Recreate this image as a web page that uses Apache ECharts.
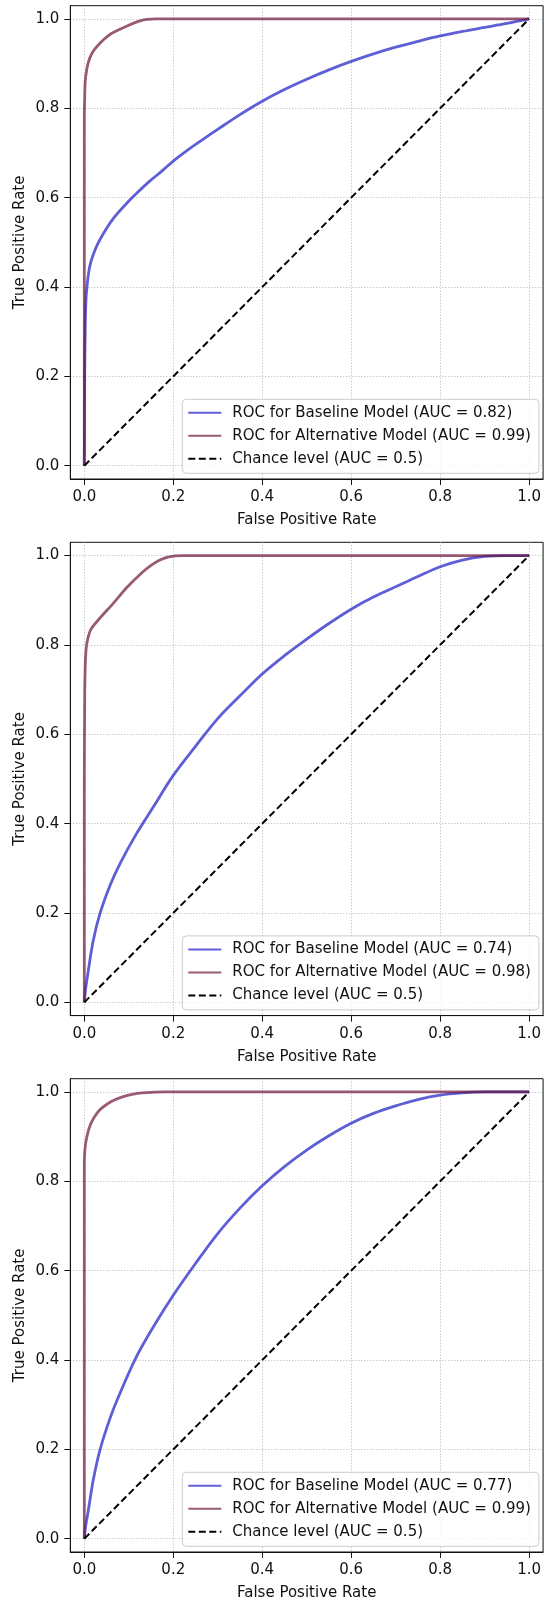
<!DOCTYPE html>
<html><head><meta charset="utf-8">
<script src="https://cdn.jsdelivr.net/npm/echarts@6/dist/echarts.min.js"></script>
<style>html,body{margin:0;padding:0;background:#fff;}#c{width:544px;height:1602px;}</style>
</head><body><div id="c"></div>
<script>
// ---- tick labels ----
const tickValues = [0, 0.2, 0.4, 0.6, 0.8, 1.0];
const tickLabels = ['0.0', '0.2', '0.4', '0.6', '0.8', '1.0'];

// ---- legend names ----
const names1 = ['ROC for Baseline Model (AUC = 0.82)', 'ROC for Alternative Model (AUC = 0.99)', 'Chance level (AUC = 0.5)'];
const names2 = ['ROC for Baseline Model (AUC = 0.74)', 'ROC for Alternative Model (AUC = 0.98)', 'Chance level (AUC = 0.5)'];
const names3 = ['ROC for Baseline Model (AUC = 0.77)', 'ROC for Alternative Model (AUC = 0.99)', 'Chance level (AUC = 0.5)'];

// ---- chance level ----
const chanceX = [0, 1];
const chanceY = [0, 1];

// ---- panel 1 ----
const base1X = [0, 0.0005, 0.001, 0.002, 0.003, 0.005, 0.012, 0.025, 0.042, 0.065, 0.094, 0.12, 0.147, 0.175, 0.2, 0.233, 0.266, 0.3, 0.35, 0.4, 0.45, 0.5, 0.55, 0.6, 0.65, 0.7, 0.75, 0.8, 0.85, 0.9, 0.95, 1.0];
const base1Y = [0, 0.12, 0.22, 0.3, 0.35, 0.39, 0.445, 0.485, 0.518, 0.553, 0.586, 0.612, 0.637, 0.66, 0.682, 0.707, 0.73, 0.753, 0.786, 0.816, 0.842, 0.865, 0.886, 0.905, 0.922, 0.937, 0.95, 0.962, 0.972, 0.981, 0.99, 1.0];
const alt1X = [0, 0, 0.001, 0.002, 0.006, 0.012, 0.02, 0.03, 0.045, 0.06, 0.08, 0.1, 0.12, 0.14, 0.16, 1];
const alt1Y = [0, 0.78, 0.83, 0.86, 0.89, 0.912, 0.928, 0.94, 0.955, 0.967, 0.977, 0.986, 0.994, 0.999, 1, 1];

// ---- panel 2 ----
const base2X = [0, 0.003, 0.009, 0.02, 0.035, 0.058, 0.08, 0.117, 0.155, 0.2, 0.25, 0.3, 0.35, 0.4, 0.45, 0.5, 0.55, 0.6, 0.65, 0.7, 0.75, 0.8, 0.85, 0.9, 0.95, 1];
const base2Y = [0, 0.03, 0.071, 0.138, 0.198, 0.262, 0.31, 0.377, 0.437, 0.508, 0.573, 0.635, 0.686, 0.735, 0.776, 0.813, 0.848, 0.88, 0.907, 0.93, 0.953, 0.975, 0.99, 0.998, 1, 1];
const alt2X = [0, 0, 0.001, 0.002, 0.004, 0.008, 0.016, 0.035, 0.065, 0.095, 0.13, 0.15, 0.17, 0.19, 0.22, 1];
const alt2Y = [0, 0.5, 0.7, 0.75, 0.79, 0.815, 0.837, 0.86, 0.893, 0.928, 0.962, 0.978, 0.99, 0.997, 1, 1];

// ---- panel 3 ----
const base3X = [0, 0.003, 0.009, 0.02, 0.035, 0.058, 0.08, 0.117, 0.155, 0.2, 0.25, 0.3, 0.35, 0.4, 0.45, 0.5, 0.55, 0.6, 0.65, 0.7, 0.75, 0.8, 0.85, 0.9, 1];
const base3Y = [0, 0.028, 0.063, 0.131, 0.198, 0.27, 0.325, 0.407, 0.474, 0.545, 0.616, 0.683, 0.74, 0.79, 0.833, 0.87, 0.902, 0.93, 0.952, 0.969, 0.983, 0.993, 0.998, 1, 1];
const alt3X = [0, 0, 0.001, 0.003, 0.007, 0.013, 0.022, 0.035, 0.05, 0.07, 0.095, 0.12, 0.15, 0.18, 1];
const alt3Y = [0, 0.84, 0.865, 0.885, 0.905, 0.925, 0.943, 0.96, 0.972, 0.983, 0.992, 0.997, 0.999, 1, 1];

const panels = [
  {names: names1, bx: base1X, by: base1Y, ax: alt1X, ay: alt1Y},
  {names: names2, bx: base2X, by: base2Y, ax: alt2X, ay: alt2Y},
  {names: names3, bx: base3X, by: base3Y, ax: alt3X, ay: alt3Y}
];

const FONT = 'DejaVu Sans';
const TXT = '#111';
const BLUE = 'rgba(40,40,200,0.75)';
const MAROON = 'rgba(110,20,60,0.7)';
const tops = [5.7, 542.3, 1078.7];
const GRID_LEFT = 70.3, GRID_W = 475.3, GRID_H = 473.3;

function pairs(xs, ys) { return xs.map((x, i) => [x, ys[i]]); }
function labelFor(v) {
  let best = 0;
  for (let i = 0; i < tickValues.length; i++) if (Math.abs(tickValues[i] - v) < Math.abs(tickValues[best] - v)) best = i;
  return tickLabels[best];
}

const grid = [], xAxis = [], yAxis = [], legend = [], series = [];
panels.forEach((p, i) => {
  const T = tops[i];
  grid.push({left: GRID_LEFT, top: T, width: GRID_W, height: GRID_H, show: true, borderColor: '#111', borderWidth: 1, backgroundColor: 'transparent'});
  const common = {
    gridIndex: i, type: 'value',
    axisLine: {show: true, onZero: false, lineStyle: {color: '#111', width: 1}},
    axisTick: {show: true, length: 6, inside: false, customValues: tickValues, lineStyle: {color: '#111', width: 1}},
    axisLabel: {customValues: tickValues, formatter: labelFor, margin: 11, fontSize: 15, fontFamily: FONT, color: TXT},
    splitLine: {show: true, lineStyle: {type: [1, 2], color: '#b5b5b5', width: 1}},
    nameLocation: 'middle',
    nameMoveOverlap: false,
    nameTextStyle: {fontSize: 15, fontFamily: FONT, color: TXT}
  };
  xAxis.push(Object.assign({}, common, {min: -0.0315, max: 1.0315, name: 'False Positive Rate', nameGap: 34}));
  yAxis.push(Object.assign({}, common, {min: -0.0297, max: 1.0297, name: 'True Positive Rate', nameGap: 43, nameRotate: 90}));
  legend.push({
    orient: 'vertical', left: 182.3, top: T + 393.6, data: p.names,
    itemWidth: 33, itemHeight: 14, itemGap: 8, padding: [6, 8, 7, 5],
    backgroundColor: 'rgba(255,255,255,0.8)', borderColor: '#cccccc', borderWidth: 1, borderRadius: 4,
    selectedMode: false,
    itemStyle: {opacity: 0},
    textStyle: {fontSize: 15, fontFamily: FONT, color: TXT, padding: [0, 0, 0, 6]}
  });
  series.push({name: p.names[0], type: 'line', xAxisIndex: i, yAxisIndex: i, data: pairs(p.bx, p.by),
    symbol: 'none', showSymbol: false, smooth: 0.35, lineStyle: {color: BLUE, width: 2.8}, itemStyle: {color: BLUE}, z: 3});
  series.push({name: p.names[1], type: 'line', xAxisIndex: i, yAxisIndex: i, data: pairs(p.ax, p.ay),
    symbol: 'none', showSymbol: false, smooth: 0.2, lineStyle: {color: MAROON, width: 2.8}, itemStyle: {color: MAROON}, z: 4});
  series.push({name: p.names[2], type: 'line', xAxisIndex: i, yAxisIndex: i, data: pairs(chanceX, chanceY),
    symbol: 'none', showSymbol: false, lineStyle: {color: '#000', width: 2, type: [7, 3.5]}, itemStyle: {color: '#000'}, z: 5});
});

const chart = echarts.init(document.getElementById('c'), null, {renderer: 'canvas'});
chart.setOption({animation: false, backgroundColor: '#fff', grid, xAxis, yAxis, legend, series});
</script></body></html>
